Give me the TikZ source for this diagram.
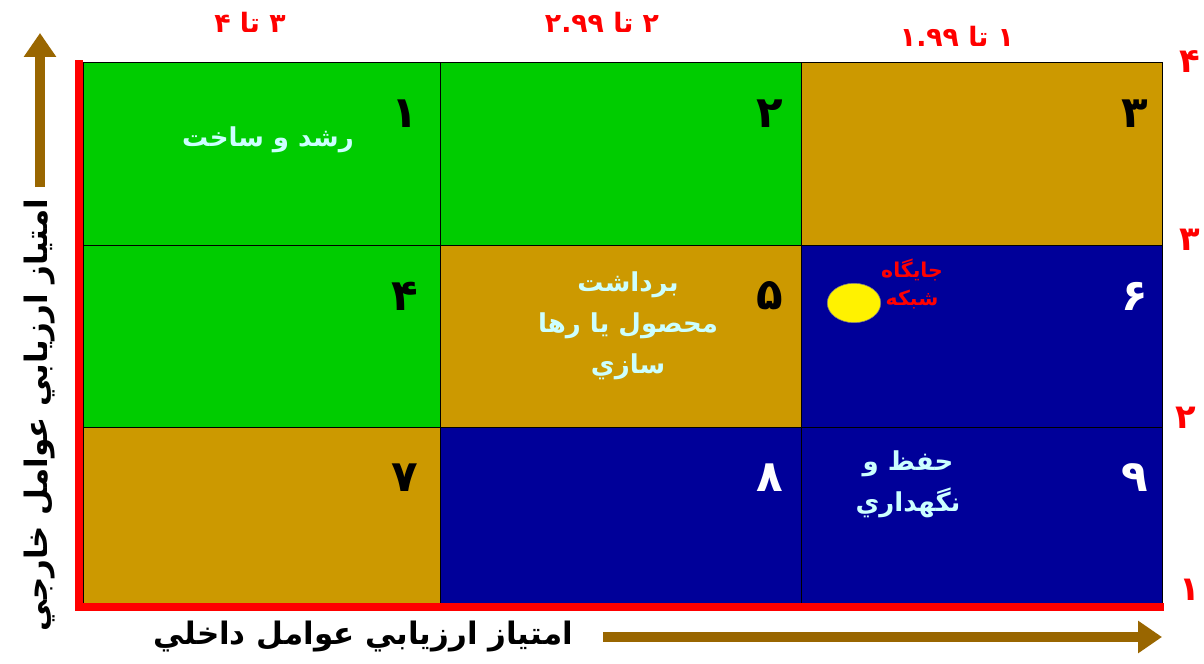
\documentclass[tikz,border=0pt]{standalone}
\usepackage{fontspec}
\usetikzlibrary{arrows.meta,shapes.geometric}
\TeXXeTstate=1
\newfontfamily\arabicfont[Script=Arabic]{DejaVu Sans}
\newcommand{\fa}[1]{{\arabicfont\beginR #1\endR}}
\definecolor{cellgreen}{HTML}{00CC00}
\definecolor{cellgold}{HTML}{CC9900}
\definecolor{cellblue}{HTML}{000099}
\definecolor{axisbrown}{HTML}{996600}
\definecolor{celltext}{HTML}{CCFFFF}

\begin{document}
\begin{tikzpicture}[x=0.025cm, y=-0.025cm,
    cellnum/.style={font=\arabicfont\bfseries\fontsize{31}{31}\selectfont},
    celllabel/.style={text=celltext, align=center, font=\arabicfont\bfseries\fontsize{18.5}{29}\selectfont},
    scalelabel/.style={text=red, font=\arabicfont\bfseries\fontsize{19}{19}\selectfont},
    rowlabel/.style={text=red, font=\arabicfont\bfseries\fontsize{24}{24}\selectfont},
    axislabel/.style={font=\arabicfont\bfseries\fontsize{22}{22}\selectfont},
    axisarrow/.style={draw=axisbrown, line width=6.5pt, -{Triangle[width=22pt,length=17pt]}}]
    \useasboundingbox (0,0) rectangle (1204,664);

    % cells, top row to bottom row
    \draw[fill=cellgreen, line width=0.6pt] (83,62) rectangle (440,245);
    \draw[fill=cellgreen, line width=0.6pt] (440,62) rectangle (801,245);
    \draw[fill=cellgold, line width=0.6pt] (801,62) rectangle (1162,245);
    \draw[fill=cellgreen, line width=0.6pt] (83,245) rectangle (440,427);
    \draw[fill=cellgold, line width=0.6pt] (440,245) rectangle (801,427);
    \draw[fill=cellblue, line width=0.6pt] (801,245) rectangle (1162,427);
    \draw[fill=cellgold, line width=0.6pt] (83,427) rectangle (440,603);
    \draw[fill=cellblue, line width=0.6pt] (440,427) rectangle (801,603);
    \draw[fill=cellblue, line width=0.6pt] (801,427) rectangle (1162,603);

    % red axes
    \draw[red, line width=5.7pt] (79,60) -- (79,607) -- (1164,607);

    % cell numbers
    \node[cellnum] (num1) at (405,114) {\fa{۱}};
    \node[cellnum] (num2) at (770,114) {\fa{۲}};
    \node[cellnum] (num3) at (1135,114) {\fa{۳}};
    \node[cellnum] (num4) at (405,296) {\fa{۴}};
    \node[cellnum] (num5) at (770,296) {\fa{۵}};
    \node[cellnum, text=white] (num6) at (1135,296) {\fa{۶}};
    \node[cellnum] (num7) at (405,478) {\fa{۷}};
    \node[cellnum, text=white] (num8) at (770,478) {\fa{۸}};
    \node[cellnum, text=white] (num9) at (1135,478) {\fa{۹}};

    % strategy labels
    \node[celllabel] (growth) at (268,140) {\fa{رشد و ساخت}};
    \node[celllabel] (harvest) at (628,326) {\fa{برداشت}\\\fa{محصول يا رها}\\\fa{سازي}};
    \node[celllabel] (hold) at (908,484) {\fa{حفظ و}\\\fa{نگهداري}};

    % network position
    \node[ellipse, fill=yellow, draw=black!50, minimum width=38pt, minimum height=28pt] (network) at (854,303) {};
    \node[text=red, align=center, font=\arabicfont\bfseries\fontsize{14.5}{20}\selectfont] (netlabel) at (912,284) {\fa{جايگاه}\\\fa{شبكه}};

    % scales
    \node[scalelabel] (col1) at (250,22) {\fa{۳ تا ۴}};
    \node[scalelabel] (col2) at (602,22) {\fa{۲ تا \beginL۲.۹۹\endL}};
    \node[scalelabel] (col3) at (957,36) {\fa{۱ تا \beginL۱.۹۹\endL}};
    \node[rowlabel] (row4) at (1190,62) {\fa{۴}};
    \node[rowlabel] (row3) at (1190,240) {\fa{۳}};
    \node[rowlabel] (row2) at (1186,418) {\fa{۲}};
    \node[rowlabel] (row1) at (1190,590) {\fa{۱}};

    % axis titles and arrows
    \node[axislabel, rotate=90] (ytitle) at (40,415) {\fa{امتياز ارزيابي عوامل خارجي}};
    \node[axislabel] (xtitle) at (363,637) {\fa{امتياز ارزيابي عوامل داخلي}};
    \coordinate (ytail) at (40,187);
    \coordinate (ytip) at (40,33);
    \coordinate (xtail) at (603,637);
    \coordinate (xtip) at (1162,637);
    \draw[axisarrow] (ytail) -- (ytip);
    \draw[axisarrow] (xtail) -- (xtip);
\end{tikzpicture}
\end{document}
